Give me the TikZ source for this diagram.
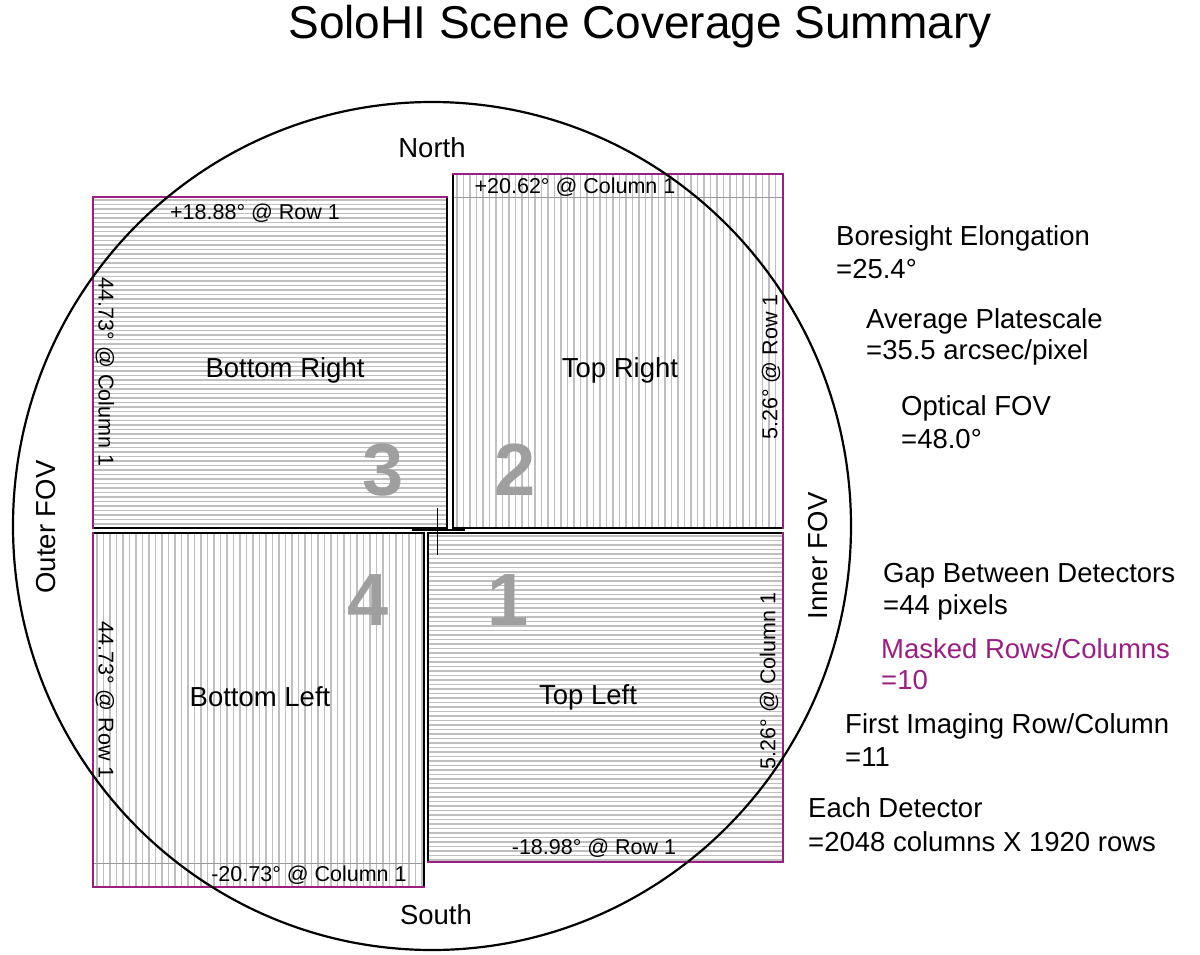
\documentclass[tikz,border=0pt]{standalone}
\usepackage{fontspec}
\setmainfont{Liberation Sans}
\definecolor{mag}{RGB}{155,30,130}
\begin{document}
\begin{tikzpicture}[x=1pt,y=-1pt,
  hl/.style={gray!50,line width=1.5pt},
  vl/.style={gray!50,line width=1.7pt},
  maskl/.style={gray!80,line width=0.9pt},
  magb/.style={draw=mag,line width=2.6pt,line cap=rect},
  blkb/.style={draw=black,line width=2pt,line cap=rect},
  lab/.style={font=\fontsize{27.5}{30}\selectfont},
  ang/.style={font=\fontsize{21.5}{24}\selectfont,inner sep=0pt},
  num/.style={font=\fontsize{74}{80}\selectfont\bfseries,text=gray!75},
  side/.style={font=\fontsize{27.5}{32}\selectfont,anchor=west,inner sep=0pt}]
\useasboundingbox (0,0) rectangle (1200,955);

% Box 3 (Bottom Right)
\fill[white] (93,197) rectangle (447,528);
\foreach \y in {200,204.5,...,526} \draw[hl] (93,\y) -- (447,\y);
% Box 2 (Top Right)
\fill[white] (453,174) rectangle (783,528);
\foreach \x in {457,463.5,...,781} \draw[vl] (\x,174) -- (\x,528);
\draw[maskl] (453,197) -- (783,197);
% Box 4 (Bottom Left)
\fill[white] (93,533) rectangle (424,887);
\foreach \x in {97,103.5,...,422} \draw[vl] (\x,533) -- (\x,887);
\draw[maskl] (93,863) -- (424,863);
% Box 1 (Top Left)
\fill[white] (428,533) rectangle (783,862);
\foreach \y in {536,540.5,...,860} \draw[hl] (428,\y) -- (783,\y);

% outlines
\draw[blkb] (447,197) -- (447,528) -- (93,528);
\draw[magb] (447,197) -- (93,197) -- (93,528);
\draw[blkb] (453,174) -- (453,528) -- (783,528);
\draw[magb] (453,174) -- (783,174) -- (783,528);
\draw[blkb] (93,533) -- (424,533) -- (424,887);
\draw[magb] (93,533) -- (93,887) -- (424,887);
\draw[blkb] (428,862) -- (428,533) -- (783,533);
\draw[magb] (783,533) -- (783,862) -- (428,862);

% center cross
\draw[line width=1pt] (437,508) -- (437,555);
\draw[line width=1.5pt] (412,530) -- (465,530);

% circle
\draw[line width=2.2pt] (432,526) ellipse [x radius=419pt, y radius=424pt];

% numbers
\node[num] (n3) at (383,470) {3};
\node[num] (n2) at (515,470) {2};
\node[num] (n4) at (368,600) {4};
\node[num] (n1) at (508,600) {1};

% detector labels
\node[lab] (br) at (285,370) {Bottom Right};
\node[lab] (tr) at (620,370) {Top Right};
\node[lab] (bl) at (260,697) {Bottom Left};
\node[lab] (tl) at (588,697) {Top Left};

% angle labels
\node[ang] (a1) at (255,213) {+18.88° @ Row 1};
\node[ang] (a2) at (575,187) {+20.62° @ Column 1};
\node[ang] (a3) at (309,875) {-20.73° @ Column 1};
\node[ang] (a4) at (594,848) {-18.98° @ Row 1};
\node[ang,rotate=-90] (a5) at (105,372) {44.73° @ Column 1};
\node[ang,rotate=-90] (a6) at (105,700) {44.73° @ Row 1};
\node[ang,rotate=90] (a7) at (771,367) {5.26° @ Row 1};
\node[ang,rotate=90] (a8) at (769,681) {5.26° @ Column 1};

% directions
\node[lab] (north) at (432,148) {North};
\node[lab] (south) at (436,915) {South};
\node[lab,rotate=90] (outer) at (46,527) {Outer FOV};
\node[lab,rotate=90] (inner) at (818,556) {Inner FOV};

% title
\node[font=\fontsize{46}{50}\selectfont] (title) at (640,27) {SoloHI Scene Coverage Summary};

% side notes
\node[side] (s1) at (836,238) {Boresight Elongation};
\node[side] (s1b) at (836,269) {=25.4°};
\node[side] (s2) at (866,321) {Average Platescale};
\node[side] (s2b) at (866,352) {=35.5 arcsec/pixel};
\node[side] (s3) at (901,408) {Optical FOV};
\node[side] (s3b) at (901,439) {=48.0°};
\node[side] (s4) at (883,576) {Gap Between Detectors};
\node[side] (s4b) at (883,607) {=44 pixels};
\node[side,text=mag] (s5) at (881,649) {Masked Rows/Columns};
\node[side,text=mag] (s5b) at (881,680) {=10};
\node[side] (s6) at (845,726) {First Imaging Row/Column};
\node[side] (s6b) at (845,757) {=11};
\node[side] (s7) at (808,808) {Each Detector};
\node[side] (s7b) at (808,842) {=2048 columns X 1920 rows};
\end{tikzpicture}
\end{document}
